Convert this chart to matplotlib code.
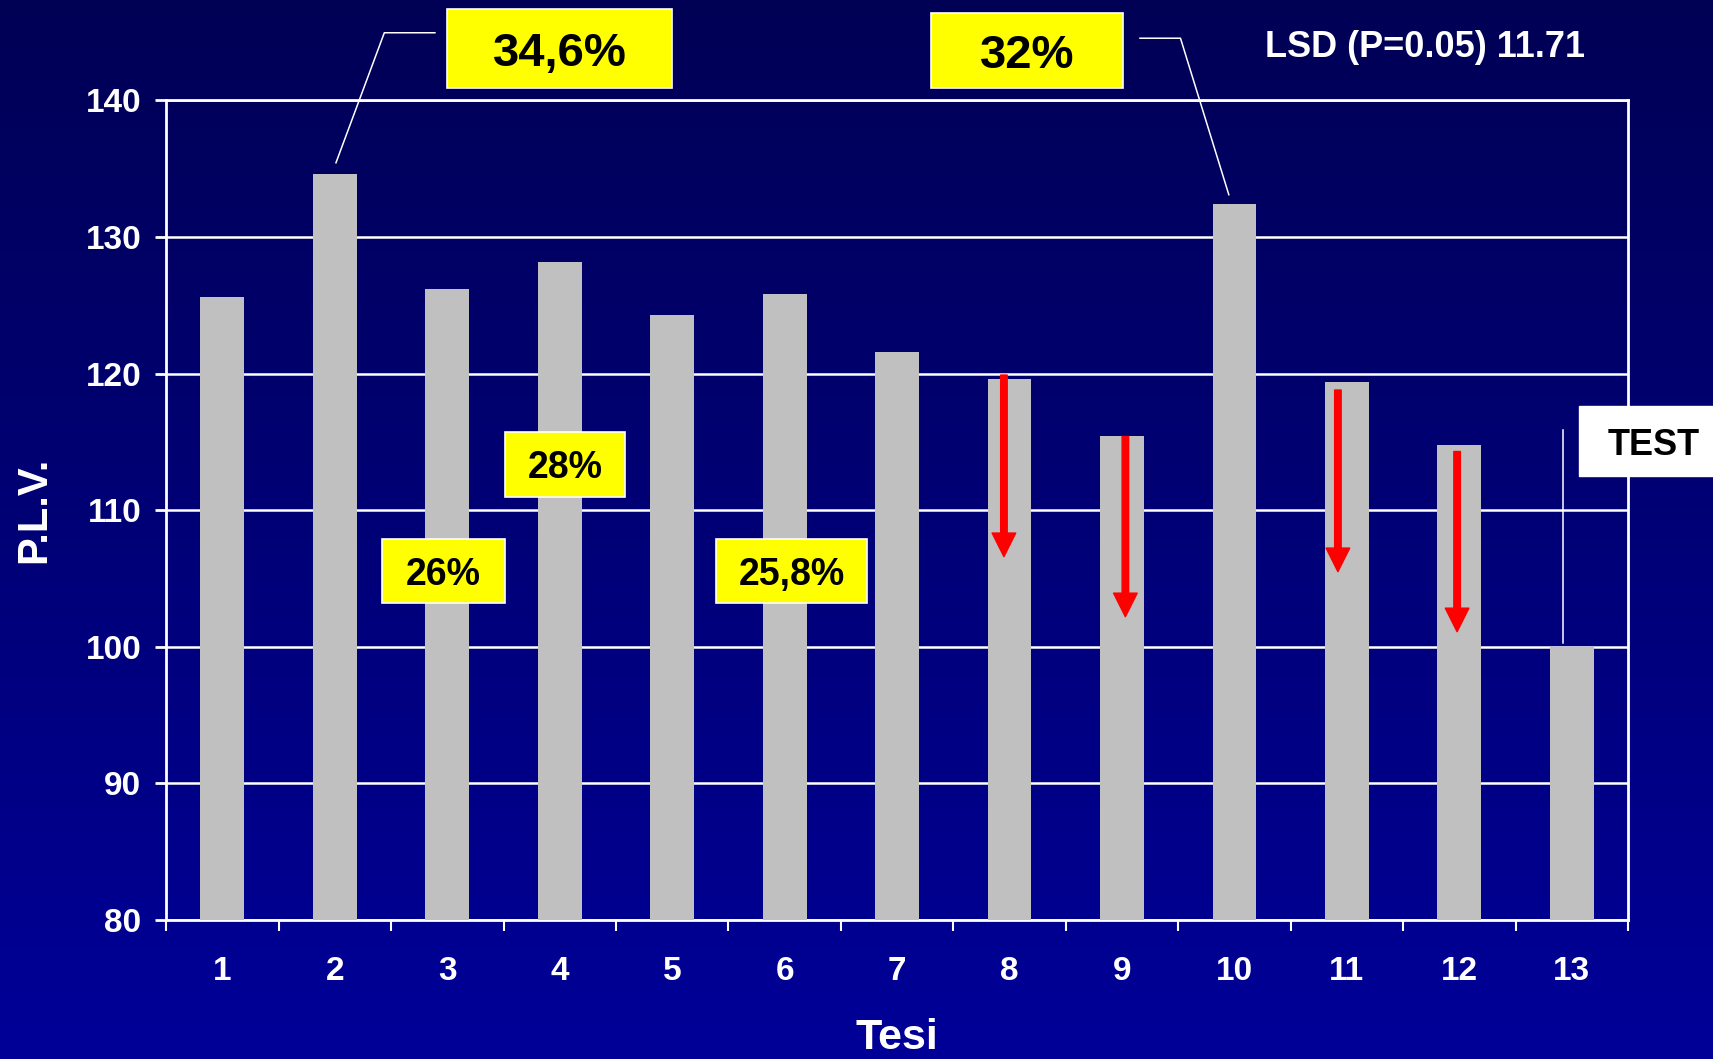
import numpy as np
import matplotlib.pyplot as plt
from matplotlib.patches import Rectangle, FancyArrowPatch

plt.rcParams['font.family'] = ['Liberation Sans', 'DejaVu Sans']
plt.rcParams['font.weight'] = 'bold'

# data
tesi = list(range(1, 14))
plv = [125.6, 134.6, 126.2, 128.2, 124.3, 125.8, 121.6, 119.6, 115.4, 132.4, 119.4, 114.8, 100.0]

# red "drop" arrows on treatments 8, 9, 11, 12
arrow_tesi = [7.95, 9.03, 10.92, 11.98]
arrow_from = [119.9, 115.4, 118.8, 114.3]
arrow_to = [106.6, 102.2, 105.5, 101.1]

# percentage call-outs: text, (x0, x1, y0, y1) in data units
callouts = [
    ("34,6%", (3.0, 5.0, 140.9, 146.7), 34),
    ("32%", (7.3, 9.01, 140.9, 146.4), 34),
    ("28%", (3.51, 4.58, 111.0, 115.7), 27),
    ("26%", (2.42, 3.51, 103.2, 107.9), 27),
    ("25,8%", (5.39, 6.73, 103.2, 107.9), 27),
]

fig = plt.figure(figsize=(17.13, 10.59), dpi=100)

# gradient background
bg = fig.add_axes([0, 0, 1, 1])
bg.set_zorder(-1)
grad = np.linspace(0, 1, 256)[:, None]
top = np.array([0, 0, 0x55]) / 255
bot = np.array([0, 0, 0x98]) / 255
img = top[None, None, :] * (1 - grad[..., None]) + bot[None, None, :] * grad[..., None]
bg.imshow(img, aspect='auto', extent=[0, 1, 0, 1], origin='upper')
bg.axis('off')

ax = fig.add_axes([0.0970, 0.1313, 0.8534, 0.7738])
ax.set_facecolor('none')

ax.bar(tesi, np.array(plv) - 80, bottom=80, width=0.39, color='#C0C0C0', zorder=3)

ax.set_xlim(0.5, 13.5)
ax.set_ylim(80, 140)
ax.set_yticks(range(80, 141, 10))
ax.set_xticks(tesi)
ax.set_xticks(np.arange(0.5, 14, 1), minor=True)
ax.set_axisbelow(True)
ax.yaxis.grid(True, color='white', lw=1.8)

for s in ax.spines.values():
    s.set_color('white')
    s.set_linewidth(2)

ax.tick_params(axis='x', which='major', length=0, pad=26, labelsize=24, labelcolor='white')
ax.tick_params(axis='x', which='minor', length=8, width=1.5, color='white', direction='out')
ax.tick_params(axis='y', length=8, width=2, color='white', pad=10, labelsize=24, labelcolor='white')

ax.set_ylabel('P.L.V.', fontsize=30, color='white', fontweight='bold')
ax.yaxis.label.set_va('center')
ax.yaxis.set_label_coords(-0.0903, 0.5)
ax.set_xlabel('Tesi', fontsize=31, color='white', fontweight='bold')
ax.xaxis.label.set_va('baseline')
ax.xaxis.set_label_coords(0.5, -0.158)

# call-out boxes
for text, (x0, x1, y0, y1), fs in callouts:
    ax.add_patch(Rectangle((x0, y0), x1 - x0, y1 - y0, fc='#FFFF00', ec='white',
                           lw=1.2, clip_on=False, zorder=5))
    ax.text((x0 + x1) / 2, (y0 + y1) / 2, text, ha='center', va='center_baseline',
            fontsize=fs, fontweight='bold', color='black', zorder=6, clip_on=False)

# leader lines
ax.plot([2.89, 2.44, 2.01], [144.96, 144.96, 135.44], color='white', lw=1.1, clip_on=False, zorder=4)
ax.plot([9.16, 9.52, 9.95], [144.56, 144.56, 133.1], color='white', lw=1.1, clip_on=False, zorder=4)

# TEST box
ax.add_patch(Rectangle((13.06, 112.5), 1.3, 5.1, fc='white', ec='white', clip_on=False, zorder=5))
ax.text(13.73, 115.05, 'TEST', ha='center', va='center_baseline', fontsize=26,
        fontweight='bold', color='black', zorder=6, clip_on=False)
ax.plot([12.92, 12.92], [115.9, 100.3], color='white', lw=1.1, zorder=4)

# LSD note
ax.text(0.752, 1.0693, 'LSD (P=0.05) 11.71', transform=ax.transAxes, ha='left',
        va='center_baseline', fontsize=26, fontweight='bold', color='white')

# red arrows
for x, y0, y1 in zip(arrow_tesi, arrow_from, arrow_to):
    ar = FancyArrowPatch((x, y0), (x, y1),
                         arrowstyle='simple,head_width=17,head_length=17,tail_width=4.7',
                         mutation_scale=1, color='#FF0000', shrinkA=0, shrinkB=0, zorder=7)
    ax.add_patch(ar)

fig.savefig('out.png', dpi=100)
